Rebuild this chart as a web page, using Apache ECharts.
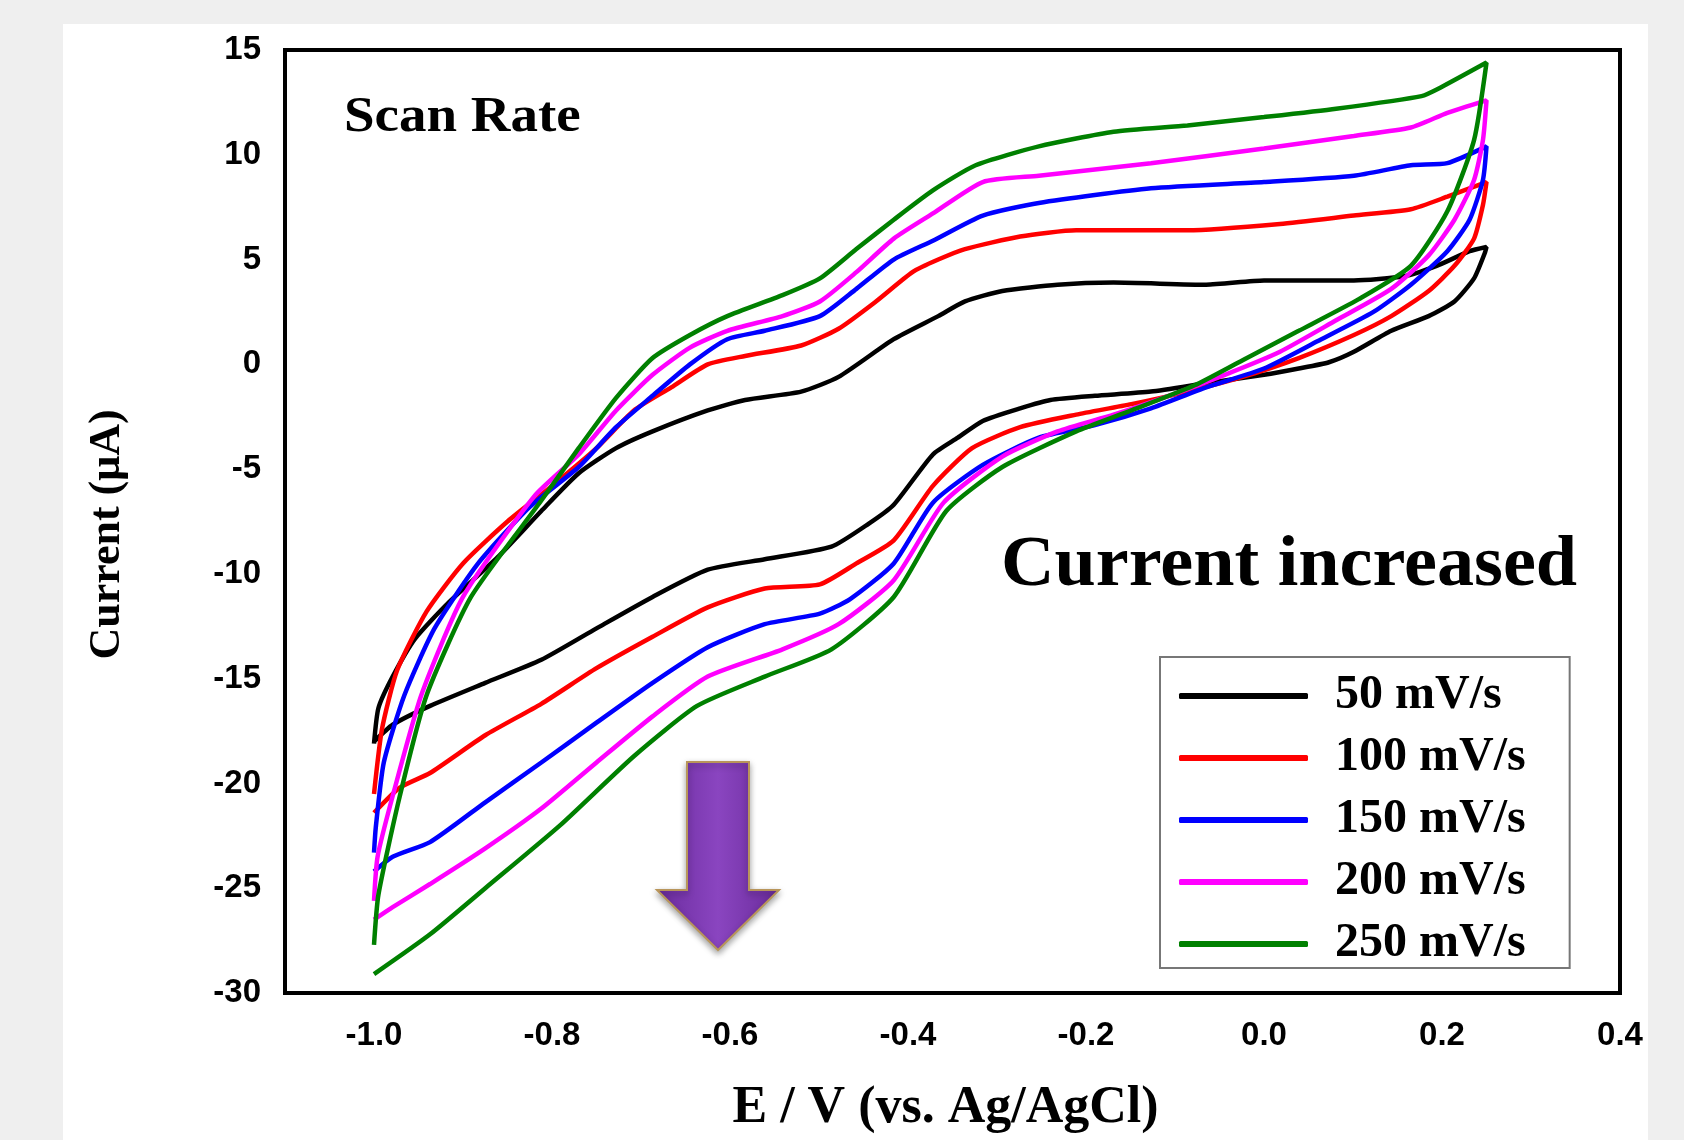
<!DOCTYPE html>
<html>
<head>
<meta charset="utf-8">
<title>Scan rate CV</title>
<script src="https://cdn.jsdelivr.net/npm/echarts@6/dist/echarts.min.js"></script>
<style>
  html, body { margin: 0; padding: 0; background: #efefef; }
  #chart { width: 1684px; height: 1140px; }
</style>
</head>
<body>
<div id="chart"></div>
<script>
// legend names
const rateNames = ['50 mV/s', '100 mV/s', '150 mV/s', '200 mV/s', '250 mV/s'];
const rateColors = ['#000000', '#ff0000', '#0000ff', '#ff00ff', '#008000'];

// x axis tick labels
const xTicks = [-1.0, -0.8, -0.6, -0.4, -0.2, 0.0, 0.2, 0.4];

// each loop: upper branch from -1.0 to 0.25, then lower branch back to -1.0
const cv50 = [
  [-1.0,-18.1],[-0.995,-16.4],[-0.979,-14.9],[-0.954,-13.1],[-0.917,-11.4],[-0.861,-9.2],[-0.812,-7.0],
  [-0.770,-5.2],[-0.728,-4.0],[-0.687,-3.2],[-0.625,-2.2],[-0.583,-1.7],[-0.520,-1.3],[-0.478,-0.6],
  [-0.416,1.2],[-0.366,2.3],[-0.336,3.0],[-0.294,3.5],[-0.232,3.8],[-0.169,3.9],[-0.065,3.8],[0.0,4.0],
  [0.101,4.0],[0.157,4.2],[0.194,4.7],[0.231,5.4],[0.25,5.6],
  [0.248,5.3],[0.236,4.1],[0.214,3.0],[0.185,2.3],[0.143,1.6],[0.101,0.6],[0.073,0.1],[0.039,-0.2],
  [0.0,-0.5],[-0.065,-0.9],[-0.127,-1.3],[-0.190,-1.5],[-0.240,-1.7],[-0.274,-2.1],[-0.316,-2.7],
  [-0.344,-3.5],[-0.372,-4.3],[-0.416,-6.7],[-0.444,-7.6],[-0.486,-8.7],[-0.561,-9.3],[-0.625,-9.8],
  [-0.687,-11.1],[-0.750,-12.6],[-0.812,-14.1],[-0.875,-15.2],[-0.937,-16.3],[-0.979,-17.2],[-1.0,-18.0]
];
const cv100 = [
  [-1.0,-20.5],[-0.991,-17.4],[-0.974,-14.6],[-0.941,-11.8],[-0.900,-9.5],[-0.850,-7.5],[-0.800,-5.8],
  [-0.750,-4.0],[-0.708,-2.2],[-0.666,-1.1],[-0.625,0.0],[-0.583,0.4],[-0.520,0.9],[-0.478,1.7],
  [-0.436,3.0],[-0.395,4.4],[-0.366,5.0],[-0.336,5.5],[-0.274,6.1],[-0.211,6.4],[-0.086,6.4],[0.018,6.7],
  [0.101,7.1],[0.165,7.4],[0.206,8.0],[0.25,8.7],
  [0.246,7.6],[0.236,6.0],[0.214,4.7],[0.185,3.5],[0.143,2.3],[0.101,1.4],[0.039,0.3],[-0.024,-0.6],
  [-0.086,-1.3],[-0.149,-1.9],[-0.211,-2.4],[-0.274,-3.0],[-0.328,-4.0],[-0.372,-5.8],[-0.416,-8.4],
  [-0.458,-9.5],[-0.499,-10.5],[-0.561,-10.7],[-0.625,-11.6],[-0.687,-13.0],[-0.750,-14.5],[-0.812,-16.2],
  [-0.875,-17.7],[-0.937,-19.5],[-0.971,-20.2],[-1.0,-21.4]
];
const cv150 = [
  [-1.0,-23.3],[-0.998,-22.1],[-0.989,-19.0],[-0.966,-15.8],[-0.932,-12.6],[-0.883,-9.5],[-0.825,-6.8],
  [-0.770,-4.9],[-0.728,-3.0],[-0.687,-1.5],[-0.645,0.0],[-0.603,1.2],[-0.561,1.6],[-0.499,2.3],
  [-0.458,3.6],[-0.416,5.0],[-0.372,5.9],[-0.316,7.1],[-0.253,7.7],[-0.127,8.4],[0.0,8.7],[0.101,9.0],
  [0.165,9.5],[0.206,9.6],[0.25,10.4],
  [0.246,8.8],[0.231,6.9],[0.206,5.4],[0.165,3.8],[0.123,2.5],[0.060,1.1],[0.0,-0.2],[-0.065,-1.1],
  [-0.127,-2.1],[-0.190,-2.9],[-0.253,-3.5],[-0.316,-4.8],[-0.372,-6.6],[-0.416,-9.5],[-0.465,-11.2],
  [-0.499,-11.9],[-0.561,-12.4],[-0.625,-13.5],[-0.687,-15.2],[-0.750,-17.1],[-0.812,-19.0],
  [-0.875,-20.9],[-0.937,-22.8],[-0.979,-23.5],[-1.0,-24.2]
];
const cv200 = [
  [-1.0,-25.6],[-0.996,-23.5],[-0.979,-20.6],[-0.947,-15.8],[-0.900,-11.1],[-0.820,-6.3],[-0.770,-4.3],
  [-0.728,-2.2],[-0.687,-0.5],[-0.645,0.8],[-0.603,1.6],[-0.541,2.3],[-0.499,3.0],[-0.458,4.4],
  [-0.416,6.0],[-0.372,7.2],[-0.316,8.7],[-0.253,9.0],[-0.127,9.6],[0.0,10.3],[0.101,10.9],[0.165,11.3],
  [0.206,12.0],[0.25,12.6],
  [0.246,10.7],[0.236,8.8],[0.214,6.9],[0.185,5.2],[0.143,3.6],[0.081,2.1],[0.018,0.6],[-0.044,-0.5],
  [-0.107,-1.5],[-0.169,-2.4],[-0.232,-3.2],[-0.294,-4.4],[-0.360,-6.6],[-0.416,-10.3],[-0.478,-12.4],
  [-0.541,-13.6],[-0.625,-14.9],[-0.687,-16.8],[-0.750,-19.0],[-0.812,-21.2],[-0.875,-23.1],
  [-0.937,-24.8],[-0.979,-25.9],[-1.0,-26.5]
];
const cv250 = [
  [-1.0,-27.7],[-0.995,-25.3],[-0.971,-20.6],[-0.941,-15.8],[-0.891,-11.1],[-0.812,-6.5],[-0.770,-4.0],
  [-0.728,-1.6],[-0.687,0.3],[-0.645,1.4],[-0.603,2.3],[-0.541,3.3],[-0.499,4.1],[-0.458,5.5],
  [-0.416,6.9],[-0.372,8.3],[-0.324,9.5],[-0.253,10.4],[-0.169,11.1],[-0.086,11.4],[0.0,11.8],
  [0.081,12.2],[0.177,12.8],[0.198,13.2],[0.25,14.4],
  [0.236,10.7],[0.206,7.3],[0.165,4.7],[0.106,3.1],[0.039,1.6],[-0.024,0.2],[-0.078,-1.0],
  [-0.149,-2.2],[-0.211,-3.2],[-0.294,-4.9],[-0.357,-7.0],[-0.416,-11.1],[-0.486,-13.6],[-0.561,-14.9],
  [-0.637,-16.3],[-0.708,-18.7],[-0.791,-22.0],[-0.875,-25.0],[-0.937,-27.2],[-1.0,-29.1]
];
const loops = [cv50, cv100, cv150, cv200, cv250];

const serif = '"Liberation Serif", "Times New Roman", serif';
const sans = '"Liberation Sans", Arial, sans-serif';

var myChart = echarts.init(document.getElementById('chart'));

let option = {
  animation: false,
  backgroundColor: '#efefef',
  grid: {
    left: 285, right: 64, top: 50, bottom: 141,
    show: true, borderColor: '#000', borderWidth: 4
  },
  legend: {
    data: rateNames,
    orient: 'vertical',
    left: 1160, top: 657,
    backgroundColor: '#fff',
    borderColor: '#777',
    borderWidth: 2,
    borderRadius: 0,
    padding: [15, 44, 0, 19],
    itemGap: 14,
    itemWidth: 129,
    itemHeight: 6,
    icon: 'roundRect',
    textStyle: {
      fontFamily: serif, fontWeight: 'bold', fontSize: 48, color: '#000',
      padding: [0, 0, 0, 22]
    }
  },
  xAxis: {
    type: 'value',
    min: -1.1, max: 0.4,
    name: 'E / V (vs. Ag/AgCl)',
    nameLocation: 'middle',
    nameGap: 90,
    nameTextStyle: { fontFamily: serif, fontWeight: 'bold', fontSize: 52, color: '#000', padding: [0, 14, 0, 0] },
    axisLine: { show: true, onZero: false, lineStyle: { color: '#000', width: 4 } },
    axisTick: { show: false },
    splitLine: { show: false },
    axisLabel: {
      customValues: xTicks,
      showMaxLabel: true,
      margin: 26,
      fontFamily: sans, fontWeight: 'bold', fontSize: 33, color: '#000',
      formatter: v => v.toFixed(1)
    }
  },
  yAxis: {
    type: 'value',
    min: -30, max: 15, interval: 5,
    name: 'Current (μA)',
    nameLocation: 'middle',
    nameGap: 155,
    nameTextStyle: { fontFamily: serif, fontWeight: 'bold', fontSize: 44, color: '#000', padding: [0, 26, 0, 0] },
    axisLine: { show: true, onZero: false, lineStyle: { color: '#000', width: 4 } },
    axisTick: { show: false },
    splitLine: { show: false },
    axisLabel: {
      margin: 24,
      fontFamily: sans, fontWeight: 'bold', fontSize: 33, color: '#000'
    }
  },
  graphic: [
    // white figure panel
    { type: 'rect', z: -10, silent: true, shape: { x: 63, y: 24, width: 1585, height: 1116 }, style: { fill: '#ffffff' } },
    { type: 'text', x: 344, y: 118, scaleX: 1.1, style: { text: 'Scan Rate', font: 'bold 50px ' + serif, fill: '#000', verticalAlign: 'middle' } },
    { type: 'text', x: 1001, y: 566, scaleX: 1.03, style: { text: 'Current increased', font: 'bold 72px ' + serif, fill: '#000', verticalAlign: 'middle' } },
    // purple arrow
    {
      type: 'polygon', z: 50,
      shape: { points: [[687, 762], [749, 762], [749, 890], [779, 890], [718, 950], [657, 890], [687, 890]] },
      style: {
        fill: new echarts.graphic.LinearGradient(0, 0, 1, 0, [
          { offset: 0, color: '#6b2c9e' },
          { offset: 0.5, color: '#8a45c0' },
          { offset: 1, color: '#6a2b9b' }
        ]),
        stroke: '#b8955a', lineWidth: 2,
        shadowBlur: 6, shadowColor: 'rgba(0,0,0,0.35)', shadowOffsetY: 3
      }
    }
  ],
  series: loops.map((d, i) => ({
    name: rateNames[i],
    type: 'line',
    data: d,
    showSymbol: false,
    smooth: 0.2,
    color: rateColors[i],
    lineStyle: { width: 4.5, color: rateColors[i] },
    z: 2 + i
  }))
};

myChart.setOption(option);
</script>
</body>
</html>
